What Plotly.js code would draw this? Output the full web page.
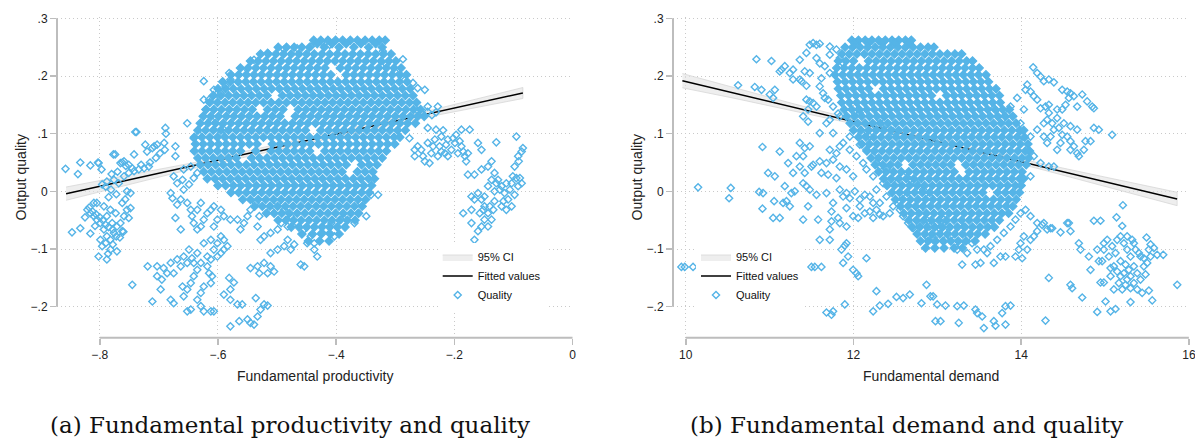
<!DOCTYPE html>
<html><head><meta charset="utf-8">
<script src="https://cdn.plot.ly/plotly-3.0.1.min.js"></script>
<style>html,body{margin:0;padding:0;background:#fff}#chart{width:1195px;height:441px}</style>
</head><body><div id="chart"></div>
<script>
// ---------------- DATA ----------------
// Axis ticks
const prodTicks = [-0.8, -0.6, -0.4, -0.2, 0];
const prodTickText = ['\u2212.8', '\u2212.6', '\u2212.4', '\u2212.2', '0'];
const demandTicks = [10, 12, 14, 16];
const demandTickText = ['10', '12', '14', '16'];
const qualityTicks = [-0.2, -0.1, 0, 0.1, 0.2, 0.3];
const qualityTickText = ['\u2212.2', '\u2212.1', '0', '.1', '.2', '.3'];

// Panel (a): fitted line and 95% CI
const prodFitX = [-0.857, -0.084];
const prodFitY = [-0.004, 0.1705];
const prodCiX  = [-0.857, -0.78, -0.70, -0.64, -0.25, -0.17, -0.084];
const prodCiLo = [-0.0155, 0.0044, 0.0249, 0.040, 0.128, 0.144, 0.161];
const prodCiHi = [0.0075, 0.0224, 0.0379, 0.050, 0.138, 0.158, 0.180];

// Panel (b): fitted line and 95% CI
const demandFitX = [9.96, 15.86];
const demandFitY = [0.1919, -0.0132];
const demandCiX  = [9.96, 10.6, 11.3, 12.0, 14.2, 15.0, 15.86];
const demandCiLo = [0.1795, 0.1607, 0.1393, 0.117, 0.0396, 0.0088, -0.0248];
const demandCiHi = [0.2043, 0.1787, 0.1513, 0.125, 0.0496, 0.0248, -0.0016];

// Panel (a): scattered quality points, flat (productivity, quality) pairs
const prodQualityScatter = [
-.858,.039,-.837,.030,-.816,.045,-.802,.049,-.797,.038,-.777,.064,-.765,.049,-.759,.052,-.742,.064,-.738,.103,-.723,.081,-.708,.078,-.703,.081,-.689,.110,-.688,.100,-.691,.084,-.672,.078,-.672,.061,-.652,.118,-.641,.092,-.632,.098,-.624,.191,
-.796,.012,-.788,.017,-.776,.020,-.768,.014,-.759,.026,-.751,.032,-.742,.035,-.734,.038,-.725,.040,-.717,.043,-.754,.000,-.748,-.003,-.720,.069,-.711,.075,-.751,.046,
-.762,.050,-.756,.044,-.745,.040,-.730,.046,-.715,.050,-.705,.058,-.698,.066,-.690,.072,-.780,.030,-.770,.034,-.790,.008,-.781,.003,-.772,-.005,-.785,-.010,
-.833,.050,-.803,.050,-.774,.064,-.740,.103,
-.821,-.032,-.816,-.038,-.810,-.043,-.805,-.049,-.799,-.055,-.793,-.066,-.788,-.078,-.782,-.084,-.776,-.072,-.771,-.061,-.765,-.055,-.759,-.043,-.754,-.032,-.751,-.046,-.748,-.029,-.802,-.113,-.788,-.118,-.782,-.101,-.771,-.104,-.847,-.071,-.833,-.064,-.816,-.073,-.799,-.084,-.805,-.020,-.793,-.026,-.782,-.032,-.773,-.038,-.762,-.020,-.757,-.014,-.788,-.043,-.779,-.055,-.790,-.090,-.762,-.069,-.810,-.020,
-.818,-.028,-.812,-.035,-.806,-.040,-.800,-.045,-.795,-.050,-.790,-.058,-.785,-.062,-.778,-.066,-.772,-.078,-.766,-.080,-.760,-.070,-.796,-.095,-.786,-.108,-.778,-.092,-.808,-.060,-.825,-.045,
-.680,-.003,-.677,-.012,-.663,-.014,-.669,-.023,-.658,.003,-.652,-.020,-.646,-.032,-.644,-.043,-.641,-.055,-.635,-.066,-.629,-.061,-.624,-.049,-.618,-.038,-.612,-.032,-.607,-.026,-.595,-.032,-.590,-.043,-.579,-.049,-.567,-.049,-.672,-.046,-.663,-.066,-.675,.026,-.635,-.032,-.629,-.020,-.607,-.061,-.601,-.049,-.562,-.066,-.556,-.055,-.550,-.043,-.545,-.032,-.536,-.020,
-.669,.014,-.660,.020,-.649,.012,-.641,.023,-.635,.032,-.646,.043,-.658,.038,
-.624,.159,-.621,.142,-.612,.124,-.601,.113,-.595,.101,-.590,.107,-.607,.142,-.604,.159,-.595,.170,-.587,.182,-.579,.194,
-.559,.208,-.581,.205,-.607,.176,-.615,.159,-.539,.228,-.516,.240,-.488,.246,-.466,.248,-.443,.251,
-.425,.259,-.411,.254,-.321,.243,-.287,.229,-.315,.220,-.301,.208,-.250,.176,-.270,.188,-.262,.179,-.290,.199,
-.719,-.130,-.703,-.130,-.692,-.133,-.680,-.124,-.669,-.118,-.663,-.130,-.658,-.113,-.649,-.101,-.644,-.116,-.635,-.107,-.624,-.090,-.612,-.084,-.601,-.090,-.595,-.078,-.590,-.084,-.584,-.095,-.607,-.101,-.618,-.113,-.629,-.124,-.635,-.136,-.641,-.147,-.646,-.159,-.652,-.170,-.658,-.182,-.660,-.165,-.624,-.165,-.612,-.159,-.629,-.176,-.635,-.188,-.629,-.199,-.652,-.208,-.646,-.205,-.624,-.208,-.612,-.208,-.607,-.208,-.711,-.191,-.697,-.170,-.680,-.188,-.675,-.194,-.745,-.162,
-.579,-.234,-.564,-.225,-.550,-.222,-.545,-.228,-.539,-.231,-.533,-.217,-.528,-.205,-.522,-.196,-.516,-.198,-.536,-.185,-.590,-.179,-.579,-.188,-.567,-.196,-.559,-.196,-.581,-.150,-.573,-.158,-.579,-.170,
-.545,-.133,-.533,-.130,-.522,-.124,-.511,-.130,-.505,-.139,-.516,-.142,-.530,-.142,-.511,-.107,-.499,-.101,-.488,-.095,-.477,-.101,-.471,-.092,-.482,-.084,-.460,-.127,-.454,-.130,
-.528,-.084,-.522,-.078,-.511,-.072,-.499,-.066,-.493,-.055,-.482,-.061,-.533,-.061,-.530,-.043,-.511,-.032,-.499,-.020,-.488,-.032,-.477,-.043,-.466,-.055,-.454,-.066,-.443,-.078,-.449,-.090,-.437,-.101,-.432,-.113,
-.652,-.124,-.641,-.124,-.618,-.130,-.612,-.118,-.601,-.113,-.595,-.107,-.590,-.101,-.615,-.142,-.610,-.147,-.703,-.147,-.695,-.153,-.686,-.142,-.675,-.142,
-.437,-.090,-.425,-.072,-.417,-.066,-.408,-.055,-.392,-.049,-.380,-.043,-.363,-.038,-.349,-.043,-.341,-.006,-.329,-.006,-.358,-.020,-.369,-.055,-.403,-.078,
-.267,.061,-.256,.072,-.245,.084,-.233,.090,-.222,.095,-.211,.090,-.199,.084,-.188,.078,-.182,.061,-.177,.066,-.250,.052,-.242,.049,-.228,.061,-.216,.066,-.205,.072,-.194,.066,-.188,.107,-.174,.107,-.245,.110,-.231,.107,-.219,.106,-.160,.084,-.154,.072,-.129,.085,-.095,.095,
-.262,.078,-.236,.078,-.225,.078,-.214,.081,-.202,.092,-.197,.098,-.191,.087,-.185,.069,-.180,.052,-.211,.061,-.222,.069,-.239,.066,-.253,.061,-.267,.072,-.276,.092,
-.262,.140,-.255,.135,-.245,.138,-.238,.132,-.231,.137,-.245,.147,-.228,.147,
-.177,.029,-.166,.029,-.154,.038,-.143,.043,-.137,.052,-.132,.032,-.126,.020,-.120,.009,-.115,-.003,-.109,-.014,-.103,-.026,-.098,-.006,-.092,.009,-.089,.023,-.086,.014,-.098,.043,-.092,.061,-.086,.069,-.084,.075,-.160,-.003,-.154,-.014,-.149,-.026,-.143,-.038,-.149,-.049,-.154,-.061,-.160,-.069,-.166,-.084,-.171,-.055,-.185,-.038,-.137,-.049,-.143,-.061,-.132,-.017,-.120,-.026,-.112,-.032,-.123,.003,-.143,.009,-.166,-.014,-.171,-.032,-.149,-.009,-.137,.020,-.129,.014,-.106,.003,-.101,.026,
-.151,-.032,-.157,-.038,-.140,-.026,-.134,-.032,-.117,-.017,-.132,.000,-.171,-.009,-.112,.014,-.103,.014,-.095,.023,-.091,.052
];

// Panel (a): dense core, one quality level per row with its productivity values
const prodCoreY = [.262,.256,.250,.238,.226,.214,.202,.190,.178,.166,.154,.142,.130,.118,.106,.094,.082,.070,.058,.046,.034,.022,.010,-.002,-.014,-.026,-.038,-.050,-.062,-.074,-.086];
const prodCoreX = [
[-.438,-.426,-.414,-.401,-.389,-.376,-.364,-.351,-.339,-.327,-.317],
[-.432,-.407,-.383,-.358,-.333],
[-.498,-.484,-.471,-.458,-.445,-.420,-.395,-.370,-.345,-.322],
[-.528,-.515,-.502,-.489,-.476,-.463,-.450,-.437,-.424,-.411,-.398,-.385,-.372,-.359,-.346,-.333,-.320,-.307],
[-.545,-.532,-.519,-.506,-.493,-.480,-.467,-.454,-.441,-.428,-.415,-.402,-.389,-.376,-.363,-.350,-.337,-.324,-.311,-.299],
[-.562,-.549,-.536,-.523,-.510,-.497,-.484,-.471,-.458,-.445,-.432,-.419,-.393,-.380,-.367,-.354,-.341,-.328,-.315,-.302,-.290],
[-.578,-.565,-.552,-.539,-.526,-.513,-.500,-.487,-.474,-.461,-.448,-.435,-.422,-.409,-.383,-.370,-.357,-.344,-.331,-.318,-.305,-.292,-.281],
[-.592,-.579,-.566,-.553,-.540,-.527,-.514,-.501,-.488,-.475,-.462,-.449,-.436,-.423,-.410,-.397,-.384,-.371,-.358,-.345,-.332,-.319,-.306,-.293,-.280],
[-.600,-.587,-.574,-.561,-.548,-.535,-.522,-.509,-.496,-.483,-.470,-.457,-.444,-.431,-.418,-.405,-.392,-.379,-.366,-.353,-.340,-.327,-.314,-.301,-.288,-.275],
[-.608,-.595,-.582,-.569,-.556,-.543,-.530,-.517,-.491,-.478,-.465,-.452,-.439,-.426,-.413,-.400,-.387,-.374,-.361,-.348,-.335,-.322,-.309,-.296,-.283,-.270],
[-.614,-.601,-.588,-.575,-.562,-.549,-.536,-.523,-.510,-.497,-.484,-.471,-.458,-.445,-.432,-.419,-.406,-.393,-.380,-.367,-.354,-.341,-.328,-.315,-.302,-.289,-.276,-.264],
[-.620,-.607,-.594,-.581,-.568,-.555,-.542,-.516,-.503,-.490,-.464,-.451,-.438,-.425,-.412,-.399,-.386,-.373,-.360,-.347,-.334,-.321,-.308,-.295,-.282,-.269,-.257],
[-.625,-.612,-.599,-.586,-.573,-.560,-.547,-.534,-.521,-.508,-.495,-.469,-.456,-.443,-.430,-.417,-.404,-.391,-.378,-.365,-.352,-.339,-.326,-.313,-.300,-.287,-.274,-.262,-.251],
[-.630,-.617,-.604,-.591,-.578,-.565,-.552,-.539,-.526,-.513,-.500,-.487,-.474,-.461,-.448,-.435,-.422,-.409,-.396,-.383,-.370,-.357,-.344,-.331,-.318,-.305,-.292,-.279,-.266],
[-.634,-.621,-.608,-.595,-.582,-.569,-.556,-.543,-.530,-.517,-.504,-.491,-.478,-.465,-.452,-.426,-.413,-.400,-.387,-.374,-.361,-.348,-.335,-.322,-.309,-.296,-.283],
[-.640,-.627,-.614,-.601,-.588,-.575,-.562,-.549,-.536,-.523,-.510,-.497,-.484,-.471,-.458,-.445,-.432,-.419,-.406,-.393,-.380,-.367,-.354,-.341,-.328,-.315,-.302,-.292],
[-.638,-.625,-.612,-.599,-.586,-.573,-.560,-.547,-.534,-.508,-.495,-.482,-.469,-.456,-.443,-.430,-.417,-.404,-.391,-.378,-.365,-.352,-.339,-.326,-.313,-.301],
[-.640,-.627,-.614,-.601,-.588,-.575,-.562,-.536,-.510,-.497,-.484,-.471,-.458,-.445,-.419,-.406,-.393,-.380,-.367,-.354,-.341,-.328,-.315],
[-.634,-.621,-.608,-.595,-.582,-.569,-.543,-.530,-.517,-.504,-.491,-.478,-.465,-.452,-.439,-.426,-.413,-.400,-.387,-.374,-.361,-.348,-.335,-.322],
[-.630,-.617,-.604,-.591,-.578,-.565,-.552,-.539,-.526,-.513,-.500,-.487,-.474,-.461,-.448,-.435,-.422,-.409,-.396,-.383,-.357,-.344,-.331],
[-.624,-.611,-.598,-.585,-.572,-.559,-.546,-.533,-.520,-.507,-.494,-.481,-.468,-.455,-.442,-.429,-.416,-.403,-.390,-.364,-.351,-.338],
[-.618,-.605,-.592,-.579,-.566,-.553,-.540,-.527,-.514,-.501,-.488,-.475,-.462,-.449,-.436,-.423,-.410,-.397,-.384,-.371,-.358,-.345,-.335],
[-.600,-.587,-.574,-.561,-.548,-.535,-.522,-.509,-.496,-.483,-.470,-.457,-.444,-.431,-.418,-.405,-.392,-.379,-.366,-.353,-.340],
[-.578,-.565,-.552,-.539,-.526,-.513,-.500,-.487,-.474,-.461,-.448,-.435,-.422,-.409,-.396,-.383,-.370,-.357,-.344],
[-.558,-.545,-.532,-.519,-.506,-.493,-.480,-.467,-.454,-.441,-.428,-.415,-.402,-.389,-.376,-.363,-.350],
[-.538,-.525,-.512,-.499,-.486,-.473,-.460,-.447,-.434,-.421,-.408,-.395,-.382,-.369,-.356],
[-.518,-.505,-.492,-.479,-.466,-.453,-.440,-.427,-.414,-.401,-.388,-.375,-.362],
[-.498,-.485,-.472,-.459,-.446,-.433,-.420,-.407,-.394,-.381,-.368],
[-.476,-.463,-.450,-.437,-.424,-.411,-.398,-.385],
[-.458,-.440,-.425,-.410,-.395],
[-.447,-.428,-.412]
];

// Panel (b): scattered quality points, flat (demand, quality) pairs
const demandQualityScatter = [
9.948,-.131,9.988,-.131,10.087,-.131,10.207,-.131,10.179,-.110,10.147,.007,10.517,-.012,10.537,.006,10.624,.184,10.843,.229,11.022,.226,10.875,-.001,10.922,-.003,10.915,-.030,10.982,.032,11.062,.026,11.054,-.017,10.915,.077,11.121,.069,11.042,-.046,11.121,-.046,11.221,.049,11.280,.032,11.181,.009,11.201,-.017,11.241,-.026,11.161,-.020,11.360,.084,11.419,.075,11.479,.078,11.499,.043,11.400,.061,11.320,.061,11.260,-.003,11.300,.000,11.400,.014,11.439,.009,11.479,.003,11.459,-.026,11.400,-.049,11.579,-.049,11.499,-.131,11.539,-.131,11.618,-.131,11.678,-.210,11.757,-.208,11.738,-.214,11.897,-.196,11.598,-.084,11.718,-.084,11.738,-.052,11.718,-.066,11.837,-.055,11.917,-.061,11.857,-.101,11.897,-.094,11.917,-.090,11.936,-.113,11.996,-.136,11.877,-.124,12.036,-.142,12.056,-.147,12.155,-.116,12.274,-.173,12.235,-.208,12.314,-.198,12.413,-.195,12.513,-.183,12.592,-.185,12.672,-.179,12.811,-.194,12.871,-.162,12.950,-.182,
10.823,.181,10.903,.176,11.002,.168,11.042,.162,11.062,.176,11.141,.211,11.181,.217,11.121,.208,11.241,.205,11.280,.211,11.360,.228,11.419,.208,11.439,.240,11.479,.254,11.519,.257,11.559,.254,11.598,.256,11.559,.231,11.598,.222,11.658,.217,11.718,.237,11.718,.251,11.797,.246,11.837,.231,11.877,.222,11.718,.205,11.618,.196,11.439,.183,11.479,.205,11.360,.194,11.380,.191,11.280,.194,11.598,.182,11.638,.170,11.658,.162,11.439,.159,11.479,.156,11.519,.153,11.559,.147,11.698,.159,11.757,.147,11.400,.130,11.459,.121,11.459,.142,11.598,.101,11.718,.124,11.817,.135,11.837,.130,12.036,.110,12.095,.101,12.076,.136,12.056,.142,
11.618,.032,11.698,.029,11.797,.023,11.837,.003,11.877,-.009,11.917,-.003,11.956,-.012,12.016,.000,12.076,-.014,12.135,-.006,12.195,-.009,12.235,-.020,12.274,-.032,12.314,-.040,12.354,-.043,12.433,-.038,12.473,-.026,12.553,-.017,12.632,-.009,12.712,-.020,12.791,-.032,12.871,-.049,12.911,-.061,12.592,-.043,12.652,-.055,12.712,-.064,12.791,-.058,12.871,-.078,12.950,-.084,12.553,-.032,12.235,-.046,12.314,-.020,12.394,-.009,12.076,-.026,12.135,-.038,12.195,-.035,12.274,.003,12.354,.014,12.433,.020,12.513,.014,12.592,.026,12.672,.020,12.751,.014,12.831,.003,12.911,-.009,11.917,-.029,11.996,-.043,12.056,-.046,11.817,-.046,11.738,-.035,11.757,-.020,11.678,-.003,11.559,-.006,11.419,.032,11.360,.043,11.519,.046,11.598,.052,11.678,.049,11.757,.055,11.837,.043,11.917,.038,11.996,.026,11.718,.072,11.797,.066,11.877,.084,11.956,.072,12.036,.061,12.115,.049,12.155,.038,12.235,.026,12.314,.043,12.394,.038,11.837,.078,11.757,.101,11.678,.118,11.956,.095,12.076,.081,12.155,.072,12.235,.061,12.274,.049,12.195,.095,12.274,.107,12.314,.124,12.394,.116,12.473,.104,12.553,.098,
14.143,.215,14.191,.205,14.231,.199,14.270,.191,14.330,.194,14.390,.189,14.072,.185,14.111,.173,14.151,.165,14.191,.159,14.231,.144,14.290,.147,14.330,.150,14.429,.142,14.489,.176,14.549,.173,14.588,.170,14.628,.165,14.728,.168,14.787,.156,14.847,.147,14.867,.144,14.668,.147,14.569,.162,14.529,.150,14.489,.142,14.429,.127,14.509,.118,14.588,.113,14.668,.107,14.549,.095,14.588,.087,14.628,.078,14.688,.061,14.748,.072,14.767,.087,14.827,.087,14.867,.110,14.926,.107,15.085,.098,14.390,.107,14.350,.095,14.469,.084,14.429,.072,14.310,.084,14.270,.095,14.191,.107,14.111,.095,14.151,.061,14.231,.049,14.330,.043,14.390,.043,14.111,.026,13.952,.162,14.032,.142,13.873,.147,13.833,.133,13.753,.136,13.674,.144,13.773,.124,13.992,.118,14.012,.095,14.052,.176,14.310,.124,14.370,.118,14.449,.110,14.489,.098,14.330,.136,14.270,.118,14.588,.072,14.668,.066,
15.213,-.024,15.137,-.045,15.205,-.060,14.867,-.051,14.946,-.051,14.549,-.055,14.588,-.069,14.688,-.090,14.708,-.101,14.807,-.113,14.827,-.136,14.907,-.101,14.926,-.121,14.966,-.121,14.986,-.090,15.026,-.084,15.085,-.095,15.145,-.084,15.185,-.078,15.225,-.090,15.264,-.101,15.324,-.084,15.304,-.113,15.364,-.101,15.404,-.107,15.423,-.113,15.463,-.116,15.495,-.080,15.543,-.092,15.583,-.098,15.622,-.110,15.694,-.110,15.543,-.113,15.463,-.130,15.503,-.124,15.105,-.130,15.066,-.133,15.145,-.139,15.185,-.147,15.225,-.142,15.264,-.153,15.304,-.147,15.344,-.159,15.304,-.168,15.384,-.170,15.443,-.176,15.523,-.172,15.563,-.189,15.304,-.192,15.205,-.170,15.105,-.170,15.066,-.147,14.986,-.158,14.946,-.158,15.006,-.191,14.907,-.209,15.066,-.208,15.125,-.204,14.728,-.184,14.588,-.162,14.608,-.168,14.330,-.150,15.861,-.162,14.290,-.224,
15.125,-.107,15.185,-.121,15.245,-.127,15.284,-.136,15.344,-.130,15.384,-.142,15.245,-.162,15.165,-.159,15.423,-.153,15.483,-.144,15.523,-.101,15.344,-.090,15.264,-.078,14.986,-.101,15.046,-.113,
12.918,-.182,12.998,-.196,13.097,-.198,13.237,-.199,13.316,-.198,13.455,-.205,13.475,-.211,13.535,-.217,13.555,-.237,13.674,-.225,13.694,-.233,13.773,-.211,13.813,-.199,13.873,-.198,13.813,-.231,12.978,-.225,13.038,-.225,13.256,-.228,
12.958,-.081,13.078,-.049,13.117,-.061,13.157,-.078,13.197,-.090,13.237,-.101,13.276,-.092,13.296,-.127,13.455,-.127,13.515,-.124,13.555,-.101,13.594,-.107,13.634,-.095,13.674,-.124,13.753,-.113,13.813,-.113,13.932,-.113,13.972,-.101,14.012,-.116,14.072,-.101,14.111,-.084,14.151,-.078,14.191,-.069,14.250,-.058,14.310,-.066,14.370,-.064,14.469,-.071,14.569,-.055,13.992,-.090,14.032,-.078,
12.998,-.055,13.038,-.066,13.097,-.084,13.316,-.061,13.376,-.078,13.415,-.090,13.475,-.101,13.356,-.107,13.714,-.084,13.793,-.072,13.873,-.061,13.932,-.049,13.992,-.038,14.052,-.032,14.111,-.043,14.191,-.055,14.270,-.055,14.350,-.064
];

// Panel (b): dense core rows
const demandCoreY = [.262,.257,.250,.238,.226,.214,.202,.190,.178,.166,.154,.142,.130,.118,.106,.094,.082,.070,.058,.046,.034,.022,.010,-.002,-.014,-.026,-.038,-.050,-.062,-.074,-.086,-.098];
const demandCoreX = [
[11.98,12.06,12.14,12.22,12.30,12.38,12.46,12.54,12.62,12.69],
[12.02,12.18,12.34,12.50,12.66],
[11.90,11.99,12.08,12.17,12.26,12.35,12.44,12.53,12.62,12.71,12.80,12.89,12.96],
[11.86,11.95,12.04,12.13,12.22,12.31,12.40,12.49,12.58,12.67,12.76,12.85,12.94,13.03,13.12,13.21,13.29],
[11.82,11.91,12.00,12.18,12.27,12.36,12.45,12.54,12.63,12.72,12.81,12.90,12.99,13.08,13.17,13.26,13.35,13.42],
[11.80,11.89,11.98,12.07,12.16,12.25,12.34,12.43,12.52,12.61,12.70,12.79,12.88,12.97,13.06,13.15,13.24,13.33,13.42,13.50],
[11.78,11.87,11.96,12.05,12.14,12.23,12.32,12.41,12.50,12.59,12.68,12.77,12.86,12.95,13.04,13.13,13.22,13.31,13.40,13.49,13.58],
[11.81,11.90,11.99,12.08,12.17,12.26,12.35,12.44,12.53,12.62,12.71,12.80,12.89,12.98,13.07,13.16,13.25,13.34,13.43,13.52,13.61],
[11.82,11.91,12.00,12.09,12.18,12.36,12.45,12.54,12.63,12.72,12.81,12.90,12.99,13.08,13.17,13.26,13.35,13.44,13.53,13.62,13.70],
[11.85,11.94,12.03,12.12,12.21,12.30,12.39,12.48,12.57,12.66,12.75,12.84,12.93,13.11,13.20,13.29,13.38,13.47,13.56,13.65,13.74],
[11.86,11.95,12.04,12.13,12.22,12.31,12.40,12.49,12.58,12.67,12.76,12.85,12.94,13.03,13.12,13.21,13.30,13.39,13.48,13.57,13.66,13.75],
[11.89,11.98,12.07,12.16,12.25,12.34,12.43,12.52,12.61,12.70,12.79,12.88,12.97,13.06,13.15,13.24,13.33,13.42,13.51,13.60,13.69,13.78,13.86],
[11.92,12.01,12.10,12.19,12.28,12.37,12.46,12.55,12.64,12.73,12.82,12.91,13.00,13.09,13.18,13.27,13.36,13.45,13.54,13.63,13.72,13.81,13.90],
[11.96,12.05,12.14,12.23,12.32,12.41,12.50,12.59,12.68,12.77,12.86,12.95,13.04,13.13,13.22,13.31,13.40,13.49,13.58,13.67,13.76,13.85,13.94],
[12.00,12.09,12.18,12.27,12.36,12.45,12.54,12.63,12.72,12.81,12.90,12.99,13.08,13.17,13.26,13.35,13.44,13.53,13.62,13.71,13.80,13.89,13.98,14.03],
[12.06,12.15,12.24,12.33,12.42,12.51,12.60,12.69,12.78,12.87,12.96,13.05,13.14,13.23,13.32,13.41,13.50,13.59,13.68,13.77,13.86,13.95,14.04],
[12.10,12.19,12.28,12.37,12.46,12.55,12.64,12.73,12.82,12.91,13.00,13.09,13.18,13.27,13.36,13.45,13.54,13.63,13.72,13.81,13.90,13.99,14.08],
[12.16,12.25,12.34,12.43,12.52,12.61,12.70,12.79,12.88,12.97,13.06,13.15,13.24,13.33,13.42,13.51,13.60,13.69,13.78,13.87,13.96,14.05,14.10],
[12.21,12.30,12.39,12.48,12.57,12.66,12.75,12.84,12.93,13.02,13.11,13.20,13.29,13.38,13.47,13.56,13.65,13.74,13.83,13.92,14.01,14.09],
[12.26,12.35,12.44,12.53,12.71,12.80,12.89,12.98,13.07,13.16,13.34,13.43,13.52,13.61,13.70,13.79,13.88,13.97,14.06],
[12.30,12.39,12.48,12.57,12.66,12.75,12.84,12.93,13.02,13.11,13.20,13.38,13.47,13.56,13.65,13.74,13.83,13.92,14.01],
[12.36,12.45,12.54,12.63,12.72,12.81,12.90,12.99,13.08,13.17,13.26,13.35,13.44,13.53,13.62,13.71,13.80,13.89,13.98,14.03],
[12.40,12.49,12.58,12.67,12.76,12.85,12.94,13.03,13.12,13.21,13.30,13.39,13.48,13.57,13.66,13.75,13.84,13.93,14.00],
[12.46,12.55,12.64,12.73,12.82,12.91,13.00,13.09,13.18,13.27,13.36,13.45,13.54,13.72,13.81,13.90,13.98],
[12.50,12.59,12.68,12.77,12.86,12.95,13.04,13.13,13.22,13.31,13.40,13.49,13.58,13.67,13.76,13.85,13.94],
[12.56,12.65,12.74,12.83,12.92,13.01,13.10,13.19,13.28,13.37,13.46,13.55,13.64,13.73,13.82,13.90],
[12.60,12.69,12.78,12.87,12.96,13.05,13.14,13.23,13.32,13.41,13.50,13.59,13.68,13.77,13.85],
[12.66,12.75,12.84,12.93,13.02,13.11,13.20,13.29,13.38,13.47,13.56,13.65,13.74],
[12.70,12.79,12.88,12.97,13.06,13.15,13.24,13.33,13.42,13.51,13.60,13.68],
[12.76,12.85,12.94,13.03,13.12,13.21,13.30,13.39,13.48,13.57],
[12.80,12.89,12.98,13.07,13.16,13.25,13.34,13.45],
[12.86,12.97,13.08,13.20,13.30]
];

// ---------------- BUILD ----------------
function fromPairs(a){const x=[],y=[];for(let i=0;i<a.length;i+=2){x.push(a[i]);y.push(a[i+1]);}return {x,y};}
function fromRows(ys,xs){const x=[],y=[];ys.forEach((yy,i)=>xs[i].forEach(xx=>{x.push(xx);y.push(yy);}));return {x,y};}

const coreA = fromRows(prodCoreY, prodCoreX), outA = fromPairs(prodQualityScatter);
const coreB = fromRows(demandCoreY, demandCoreX), outB = fromPairs(demandQualityScatter);

const BLUE = '#55b4e7';
const FONT = 'Liberation Sans, Arial, Helvetica, sans-serif';
const AXC = '#bdbdbd';

function panel(xa, ya, leg, ciX, ciLo, ciHi, fitX, fitY, core, out){
  return [
    {type:'scatter', mode:'lines', xaxis:xa, yaxis:ya, legend:leg, name:'95% CI',
     x: ciX.concat(ciX.slice().reverse()), y: ciHi.concat(ciLo.slice().reverse()),
     fill:'toself', fillcolor:'rgba(226,226,226,0.6)', line:{color:'#d2d2d2', width:0.7}, hoverinfo:'skip'},
    {type:'scatter', mode:'lines', xaxis:xa, yaxis:ya, legend:leg, name:'Fitted values',
     x: fitX, y: fitY, line:{color:'#000', width:1.5}, hoverinfo:'skip'},
    // dense core: overlapping hollow diamonds render as an almost solid mass
    {type:'scatter', mode:'markers', xaxis:xa, yaxis:ya, legend:leg, name:'Quality', legendgroup:'q'+xa, showlegend:false,
     x: core.x, y: core.y, marker:{symbol:'diamond', size:6.4, color:BLUE, line:{color:BLUE, width:1.2}}, hoverinfo:'skip'},
    {type:'scatter', mode:'markers', xaxis:xa, yaxis:ya, legend:leg, name:'Quality', legendgroup:'q'+xa,
     x: out.x, y: out.y, marker:{symbol:'diamond-open', size:5.5, color:BLUE, line:{color:BLUE, width:1.4}}, hoverinfo:'skip'}
  ];
}

const data = panel('x','y','legend', prodCiX, prodCiLo, prodCiHi, prodFitX, prodFitY, coreA, outA)
  .concat(panel('x2','y2','legend2', demandCiX, demandCiLo, demandCiHi, demandFitX, demandFitY, coreB, outB));

const W = 1195, H = 441;
const yDom = [1 - 337.7/H, 1 - 16.7/H];
function axisBase(extra){
  return Object.assign({
    ticks:'outside', ticklen:6, tickwidth:1.5, tickcolor:AXC, ticklabeloverflow:'allow',
    showline:false, zeroline:false, showgrid:true, gridcolor:'#c9c9c9', gridwidth:1, griddash:'1px,3px',
    tickfont:{family:FONT, size:12, color:'#222'}, automargin:false, fixedrange:true
  }, extra);
}
const titleFont = {family:FONT, size:14, color:'#222'};

const layout = {
  width:W, height:H, margin:{l:0, r:0, t:0, b:0},
  paper_bgcolor:'#fff', plot_bgcolor:'#fff',
  font:{family:FONT, size:12, color:'#222'},
  showlegend:true,
  xaxis: axisBase({domain:[57/W, 573.4/W], range:[-0.8724, 0.0015], anchor:'y',
    tickmode:'array', tickvals:prodTicks, ticktext:prodTickText,
    title:{text:'Fundamental productivity', font:titleFont, standoff:10}}),
  yaxis: axisBase({domain:yDom, range:[-0.2537, 0.3028], anchor:'x',
    tickmode:'array', tickvals:qualityTicks, ticktext:qualityTickText,
    title:{text:'Output quality', font:titleFont, standoff:0}}),
  xaxis2: axisBase({domain:[673/W, 1189.3/W], range:[9.848, 16.005], anchor:'y2',
    tickmode:'array', tickvals:demandTicks, ticktext:demandTickText,
    title:{text:'Fundamental demand', font:titleFont, standoff:10}}),
  yaxis2: axisBase({domain:yDom, range:[-0.2537, 0.3028], anchor:'x2',
    tickmode:'array', tickvals:qualityTicks, ticktext:qualityTickText,
    title:{text:'Output quality', font:titleFont, standoff:0}}),
  legend: {x:(477.7-40)/W, y:1-276/H, xanchor:'left', yanchor:'middle', bgcolor:'#fff', borderwidth:0,
    font:{family:FONT, size:11, color:'#111'}, tracegroupgap:0},
  legend2: {x:(736-40)/W, y:1-276/H, xanchor:'left', yanchor:'middle', bgcolor:'#fff', borderwidth:0,
    font:{family:FONT, size:11, color:'#111'}, tracegroupgap:0},
  shapes: [
    {type:'line', xref:'x domain', yref:'y', x0:0, x1:0, y0:qualityTicks[0], y1:qualityTicks[qualityTicks.length-1], line:{color:AXC, width:2}},
    {type:'line', xref:'x', yref:'y domain', x0:prodTicks[0], x1:prodTicks[prodTicks.length-1], y0:0, y1:0, line:{color:AXC, width:2}},
    {type:'line', xref:'x2 domain', yref:'y2', x0:0, x1:0, y0:qualityTicks[0], y1:qualityTicks[qualityTicks.length-1], line:{color:AXC, width:2}},
    {type:'line', xref:'x2', yref:'y2 domain', x0:demandTicks[0], x1:demandTicks[demandTicks.length-1], y0:0, y1:0, line:{color:AXC, width:2}}
  ],
  annotations: [
    {xref:'paper', yref:'paper', x:290/W, y:1-425/H, xanchor:'center', yanchor:'middle', showarrow:false,
     text:'(a) Fundamental productivity and quality', font:{family:'DejaVu Serif, serif', size:23, color:'#111'}},
    {xref:'paper', yref:'paper', x:906.5/W, y:1-425/H, xanchor:'center', yanchor:'middle', showarrow:false,
     text:'(b) Fundamental demand and quality', font:{family:'DejaVu Serif, serif', size:23, color:'#111'}}
  ]
};

Plotly.newPlot('chart', data, layout, {displayModeBar:false, staticPlot:true});
</script></body></html>
